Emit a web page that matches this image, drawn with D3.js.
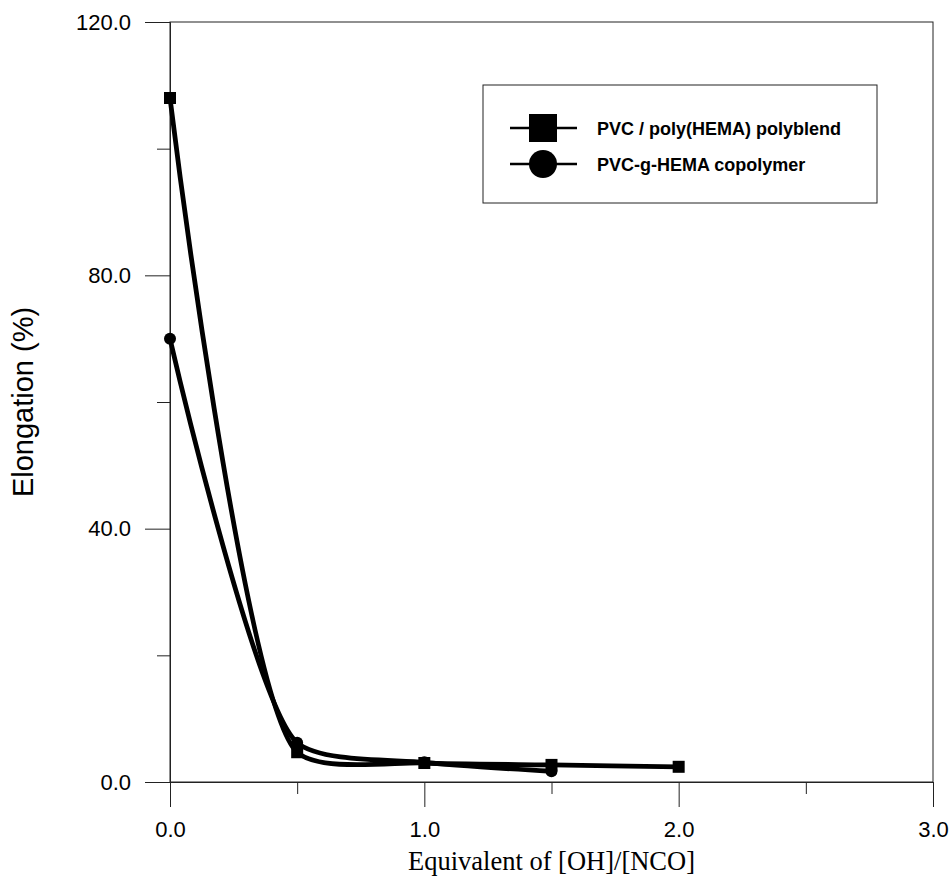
<!DOCTYPE html>
<html>
<head>
<meta charset="utf-8">
<script src="https://cdn.jsdelivr.net/npm/d3@7"></script>
<style>
  html, body { margin: 0; padding: 0; background: #fff; }
  svg { display: block; }
  .tick text { font-family: "Liberation Sans", Arial, sans-serif; font-size: 22px; fill: #000; }
</style>
</head>
<body>
<svg id="chart" width="951" height="880"></svg>
<script>
// Elongation vs. equivalent ratio of [OH]/[NCO]
const seriesNames = ["PVC / poly(HEMA) polyblend", "PVC-g-HEMA copolymer"];
const xBlend = [0, 0.5, 1.0, 1.5, 2.0];
const elongBlend = [108, 4.7, 3.0, 2.7, 2.4];
const xCopoly = [0, 0.5, 1.0, 1.5];
const elongCopoly = [70, 6.2, 3.1, 1.7];

const xMajorTicks = [0, 1, 2, 3];
const xMinorTicks = [0.5, 1.5, 2.5];
const yMajorTicks = [0, 40, 80, 120];
const yMinorTicks = [20, 60, 100];

const xTitle = "Equivalent of [OH]/[NCO]";
const yTitle = "Elongation (%)";

const svg = d3.select("#chart");
const plotLeft = 170, plotRight = 933, plotTop = 22, plotBottom = 782;

const x = d3.scaleLinear().domain([0, 3]).range([plotLeft, plotRight]);
const y = d3.scaleLinear().domain([0, 120]).range([plotBottom, plotTop]);
const fmt = d3.format(".1f");

const axisColor = "#222";

// Centripetal Catmull-Rom spline with adjustable tension (tension 0 = plain centripetal).
// End points get a zero tangent, as in d3.curveCatmullRom.
function centripetalSpline(tension) {
  const k = (1 - tension) / 3;
  return context => ({
    areaStart() {}, areaEnd() {},
    lineStart() { this.pts = []; },
    point(px, py) { this.pts.push([+px, +py]); },
    lineEnd() {
      const p = this.pts, n = p.length;
      if (!n) return;
      context.moveTo(p[0][0], p[0][1]);
      if (n === 1) return;
      const dt = [];
      for (let i = 0; i < n - 1; i++) {
        dt.push(Math.sqrt(Math.hypot(p[i + 1][0] - p[i][0], p[i + 1][1] - p[i][1])));
      }
      const m = p.map((pi, i) => {
        if (i === 0 || i === n - 1) return [0, 0];
        const a = p[i - 1], b = p[i + 1], t0 = dt[i - 1], t1 = dt[i];
        return [0, 1].map(j => (pi[j] - a[j]) / t0 - (b[j] - a[j]) / (t0 + t1) + (b[j] - pi[j]) / t1);
      });
      for (let i = 0; i < n - 1; i++) {
        const d = dt[i] * k;
        context.bezierCurveTo(
          p[i][0] + m[i][0] * d, p[i][1] + m[i][1] * d,
          p[i + 1][0] - m[i + 1][0] * d, p[i + 1][1] - m[i + 1][1] * d,
          p[i + 1][0], p[i + 1][1]);
      }
    }
  });
}

// frame
svg.append("rect")
  .attr("x", plotLeft).attr("y", plotTop)
  .attr("width", plotRight - plotLeft).attr("height", plotBottom - plotTop)
  .attr("fill", "none").attr("stroke", axisColor).attr("stroke-width", 1);

// x axis: long major ticks with labels, short minor ticks
const gxMajor = svg.append("g").attr("transform", `translate(0,${plotBottom})`)
  .call(d3.axisBottom(x).tickValues(xMajorTicks).tickFormat(fmt)
    .tickSize(25).tickSizeOuter(0).tickPadding(14));
const gxMinor = svg.append("g").attr("transform", `translate(0,${plotBottom})`)
  .call(d3.axisBottom(x).tickValues(xMinorTicks).tickFormat("")
    .tickSize(12).tickSizeOuter(0));

// y axis
const gyMajor = svg.append("g").attr("transform", `translate(${plotLeft},0)`)
  .call(d3.axisLeft(y).tickValues(yMajorTicks).tickFormat(fmt)
    .tickSize(25).tickSizeOuter(0).tickPadding(14));
const gyMinor = svg.append("g").attr("transform", `translate(${plotLeft},0)`)
  .call(d3.axisLeft(y).tickValues(yMinorTicks).tickFormat("")
    .tickSize(13).tickSizeOuter(0));

[gxMajor, gxMinor, gyMajor, gyMinor].forEach(g => {
  g.selectAll("path.domain").attr("stroke", axisColor);
  g.selectAll(".tick line").attr("stroke", axisColor).attr("stroke-width", 1);
  g.attr("font-family", null).attr("font-size", null);
});

// axis titles
svg.append("text")
  .attr("x", (plotLeft + plotRight) / 2).attr("y", 870)
  .attr("text-anchor", "middle")
  .attr("font-family", "'Liberation Serif', 'Times New Roman', serif")
  .attr("font-size", 26.5)
  .text(xTitle);

svg.append("text")
  .attr("transform", `translate(33,${(plotTop + plotBottom) / 2}) rotate(-90)`)
  .attr("text-anchor", "middle")
  .attr("font-family", "'Liberation Sans', Arial, sans-serif")
  .attr("font-size", 29)
  .text(yTitle);

// data series as smooth splines through the measured points
const blend = xBlend.map((v, i) => ({ x: v, y: elongBlend[i] }));
const copoly = xCopoly.map((v, i) => ({ x: v, y: elongCopoly[i] }));

const line = d3.line().x(d => x(d.x)).y(d => y(d.y)).curve(centripetalSpline(0.35));

svg.append("path").datum(copoly)
  .attr("d", line).attr("fill", "none")
  .attr("stroke", "#000").attr("stroke-width", 4.8).attr("stroke-linejoin", "round");
svg.append("path").datum(blend)
  .attr("d", line).attr("fill", "none")
  .attr("stroke", "#000").attr("stroke-width", 4.8).attr("stroke-linejoin", "round");

const sq = 12;
svg.append("g").selectAll("circle").data(copoly).join("circle")
  .attr("cx", d => x(d.x)).attr("cy", d => y(d.y)).attr("r", 6).attr("fill", "#000");
svg.append("g").selectAll("rect").data(blend).join("rect")
  .attr("x", d => x(d.x) - sq / 2).attr("y", d => y(d.y) - sq / 2)
  .attr("width", sq).attr("height", sq).attr("fill", "#000");

// legend
const lg = svg.append("g");
lg.append("rect").attr("x", 483).attr("y", 85).attr("width", 394).attr("height", 118)
  .attr("fill", "#fff").attr("stroke", axisColor).attr("stroke-width", 1);

const legendRows = [
  { name: seriesNames[0], cy: 128, shape: "square" },
  { name: seriesNames[1], cy: 164, shape: "circle" }
];
legendRows.forEach(r => {
  lg.append("line").attr("x1", 510).attr("x2", 577).attr("y1", r.cy).attr("y2", r.cy)
    .attr("stroke", "#000").attr("stroke-width", 2.5);
  if (r.shape === "square") {
    lg.append("rect").attr("x", 529).attr("y", r.cy - 14).attr("width", 28).attr("height", 28).attr("fill", "#000");
  } else {
    lg.append("circle").attr("cx", 543).attr("cy", r.cy).attr("r", 14).attr("fill", "#000");
  }
  lg.append("text").attr("x", 597).attr("y", r.cy + 6.5)
    .attr("font-family", "'Liberation Sans', Arial, sans-serif")
    .attr("font-weight", "bold").attr("font-size", 18)
    .text(r.name);
});
</script>
</body>
</html>
